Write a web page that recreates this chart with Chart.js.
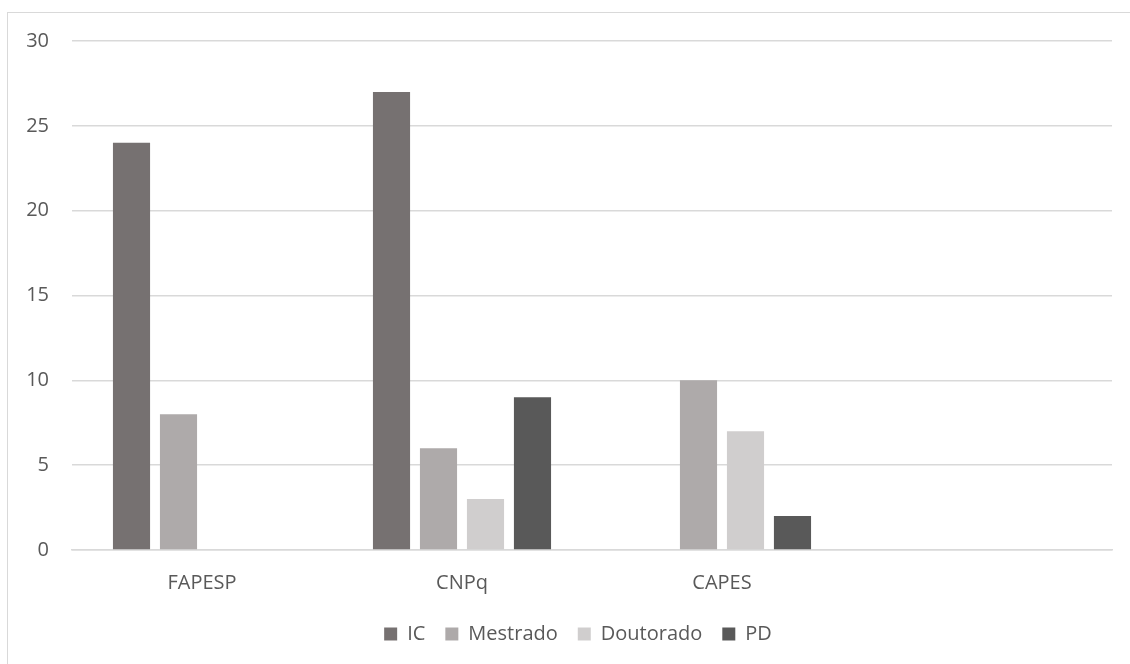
<!DOCTYPE html>
<html>
<head>
<meta charset="utf-8">
<script src="https://cdn.jsdelivr.net/npm/chart.js@4"></script>
<style>
  body { margin: 0; background: #fff; }
  #wrap { position: relative; width: 1130px; height: 664px; }
</style>
</head>
<body>
<div id="wrap"><canvas id="grafico" width="1130" height="664"></canvas></div>
<script>
// dados do gráfico
const categorias = ['FAPESP', 'CNPq', 'CAPES', ''];
const serieIC = [24, 27, null, null];
const serieMestrado = [8, 6, 10, null];
const serieDoutorado = [null, 3, 7, null];
const seriePD = [null, 9, 2, null];
const ticksY = [0, 5, 10, 15, 20, 25, 30];

const corTexto = '#595959';
const corGrade = '#d9d9d9';
const fonte = { family: 'Open Sans', size: 20 };

// moldura (só aparecem as bordas esquerda e superior) + ajuste da legenda
const moldura = {
  id: 'moldura',
  afterLayout(chart) {
    // legenda centralizada um pouco mais à direita, como no original
    chart.legend.left += 12;
    chart.legend.right += 12;
  },
  beforeDraw(chart) {
    const ctx = chart.ctx;
    ctx.save();
    ctx.strokeStyle = corGrade;
    ctx.lineWidth = 1;
    ctx.strokeRect(7.5, 12.5, 1130, 700);
    ctx.restore();
  }
};

const ds = (label, data, cor) => ({
  label, data, backgroundColor: cor, borderWidth: 0,
  categoryPercentage: 0.723, barPercentage: 0.79
});

new Chart(document.getElementById('grafico').getContext('2d'), {
  type: 'bar',
  data: {
    labels: categorias,
    datasets: [
      ds('IC', serieIC, '#767171'),
      ds('Mestrado', serieMestrado, '#aeaaaa'),
      ds('Doutorado', serieDoutorado, '#d0cece'),
      ds('PD', seriePD, '#595959')
    ]
  },
  options: {
    responsive: false,
    animation: false,
    layout: { padding: { left: 20, right: 18, top: 41, bottom: 10 } },
    plugins: {
      tooltip: { enabled: false },
      legend: {
        position: 'bottom',
        labels: {
          color: corTexto,
          font: fonte,
          boxWidth: 13, boxHeight: 13, padding: 20,
          useBorderRadius: false
        }
      }
    },
    scales: {
      x: {
        grid: { display: false },
        border: { color: corGrade, width: 1.5 },
        ticks: { color: corTexto, font: fonte, padding: 13 },
        afterFit(s) { s.height = 54; }
      },
      y: {
        min: 0, max: 30,
        afterBuildTicks(s) { s.ticks = ticksY.map(v => ({ value: v })); },
        grid: { color: corGrade, lineWidth: 1.5, drawTicks: false },
        border: { display: false },
        ticks: { color: corTexto, font: fonte, padding: 23 },
        afterFit(s) { s.width = 52; }
      }
    }
  },
  plugins: [moldura]
});
</script>
</body>
</html>
